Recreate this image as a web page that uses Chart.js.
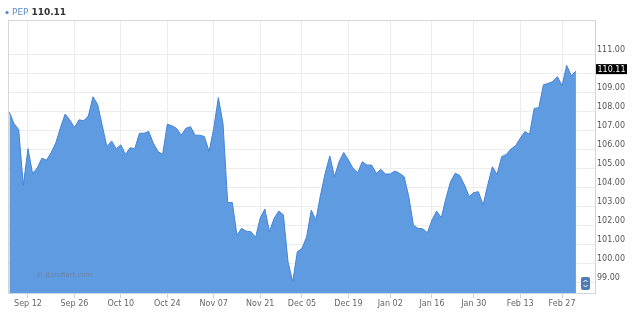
<!DOCTYPE html>
<html>
<head>
<meta charset="utf-8">
<script src="https://cdn.jsdelivr.net/npm/chart.js@4"></script>
<style>
  html, body { margin: 0; padding: 0; background: #fff; }
  #wrap { width: 642px; height: 320px; position: relative; }
</style>
</head>
<body>
<div id="wrap"><canvas id="pepChart"></canvas></div>
<script>
"use strict";

// PEP daily closes, Sep 06 2016 .. Mar 02 2017 (one per trading day)
const closes = [
  107.95, 107.35, 107.04, 104.11, 106.03, 104.72, 105.02, 105.53, 105.43, 105.83,
  106.34, 107.14, 107.85, 107.55, 107.14, 107.55, 107.50, 107.75, 108.76, 108.36,
  107.24, 106.13, 106.44, 106.03, 106.23, 105.73, 106.08, 106.03, 106.84, 106.84,
  106.94, 106.32, 105.88, 105.73, 107.32, 107.24, 107.10, 106.74, 107.10, 107.19,
  106.74, 106.74, 106.67, 105.88, 107.10, 108.72, 107.35, 103.20, 103.20, 101.49,
  101.84, 101.69, 101.67, 101.36, 102.37, 102.86, 101.67, 102.37, 102.75, 102.55,
  100.07, 99.03, 100.61, 100.78, 101.39, 102.80, 102.28, 103.60, 104.74, 105.65,
  104.56, 105.35, 105.83, 105.44, 105.00, 104.77, 105.35, 105.17, 105.17, 104.74,
  104.94, 104.70, 104.70, 104.86, 104.74, 104.56, 103.51, 102.01, 101.84, 101.82,
  101.61, 102.28, 102.75, 102.40, 103.42, 104.30, 104.74, 104.61, 104.12, 103.51,
  103.72, 103.77, 103.07, 104.12, 105.08, 104.68, 105.61, 105.73, 106.01, 106.19,
  106.58, 106.93, 106.79, 108.15, 108.19, 109.39, 109.46, 109.56, 109.82, 109.35,
  110.41, 109.87, 110.11,
];

// x ticks: trading-day index and label
const tickDays = [4, 14, 24, 34, 44, 54, 63, 73, 82, 91, 100, 110, 119];
const tickLabels = [
  "Sep 12", "Sep 26", "Oct 10", "Oct 24", "Nov 07", "Nov 21", "Dec 05",
  "Dec 19", "Jan 02", "Jan 16", "Jan 30", "Feb 13", "Feb 27",
];
const priceTicks = [99, 100, 101, 102, 103, 104, 105, 106, 107, 108, 109, 110, 111];
const symbol = "PEP";
const lastClose = 110.11;

const FONT = "DejaVu Sans";

const overlay = {
  id: "overlay",
  afterDraw(chart) {
    const { ctx, chartArea: a } = chart;
    const y = chart.scales.y;
    ctx.save();

    // frame top / left
    ctx.strokeStyle = "#d6d6d6";
    ctx.lineWidth = 1;
    ctx.beginPath();
    ctx.moveTo(a.left + 0.5, a.bottom);
    ctx.lineTo(a.left + 0.5, a.top + 0.5);
    ctx.lineTo(a.right, a.top + 0.5);
    ctx.stroke();

    // legend
    ctx.fillStyle = "#4a86d4";
    ctx.beginPath();
    ctx.arc(7, 12.5, 1.6, 0, Math.PI * 2);
    ctx.fill();
    ctx.textBaseline = "middle";
    ctx.font = "9px " + FONT;
    ctx.fillStyle = "#5b8dcc";
    ctx.fillText(symbol, 12, 12.5);
    const w = ctx.measureText(symbol + " ").width;
    ctx.font = "bold 9px " + FONT;
    ctx.fillStyle = "#333";
    ctx.fillText(lastClose.toFixed(2), 12 + w, 12.5);

    // last price box
    const py = y.getPixelForValue(lastClose) - 2;
    ctx.fillStyle = "#000";
    ctx.fillRect(a.right + 1, py - 5, 31, 10);
    ctx.fillStyle = "#fff";
    ctx.font = "8px " + FONT;
    ctx.textAlign = "center";
    ctx.fillText(lastClose.toFixed(2), a.right + 16.5, py + 0.5);
    ctx.textAlign = "left";

    // watermark
    ctx.font = "7px " + FONT;
    ctx.fillStyle = "#7085a6";
    ctx.fillText("\u00a9 Barchart.com", 36, 275);

    // scroll button
    const bx = 581, by = 277, bw = 9, bh = 13;
    ctx.fillStyle = "#4f7db3";
    ctx.beginPath();
    ctx.roundRect(bx, by, bw, bh, 2);
    ctx.fill();
    ctx.strokeStyle = "#fff";
    ctx.lineWidth = 1;
    ctx.beginPath();
    ctx.moveTo(bx + 2.5, by + 5);
    ctx.lineTo(bx + 4.5, by + 3);
    ctx.lineTo(bx + 6.5, by + 5);
    ctx.moveTo(bx + 2.5, by + 8);
    ctx.lineTo(bx + 4.5, by + 10);
    ctx.lineTo(bx + 6.5, by + 8);
    ctx.stroke();

    ctx.restore();
  },
};

new Chart(document.getElementById("pepChart"), {
  type: "line",
  data: {
    datasets: [
      {
        data: closes.map((v, i) => ({ x: i, y: v })),
        borderColor: "#4784d3",
        backgroundColor: "#5f9be1",
        borderWidth: 1,
        fill: "start",
        pointRadius: 0,
        tension: 0,
      },
    ],
  },
  options: {
    responsive: true,
    maintainAspectRatio: false,
    animation: false,
    devicePixelRatio: 1,
    layout: { padding: { left: 8, top: 20, right: 0, bottom: 0 } },
    plugins: {
      legend: { display: false },
      tooltip: { enabled: false },
    },
    scales: {
      x: {
        type: "linear",
        min: -0.3,
        max: 126.1,
        afterBuildTicks(scale) {
          scale.ticks = tickDays.map((v) => ({ value: v }));
        },
        afterFit(scale) {
          scale.height = 27;
        },
        grid: { color: "#ececec", tickLength: 5, tickColor: "#d0d0d0" },
        border: { color: "#c9d6e6" },
        ticks: {
          autoSkip: false,
          maxRotation: 0,
          padding: 1,
          color: "#666",
          font: { family: FONT, size: 8 },
          callback: (v, i) => tickLabels[i],
        },
      },
      y: {
        position: "right",
        min: 98.44,
        max: 112.8,
        afterBuildTicks(scale) {
          scale.ticks = priceTicks.map((v) => ({ value: v }));
        },
        afterFit(scale) {
          scale.width = 47;
        },
        grid: { color: "#ececec", drawTicks: false },
        border: { color: "#d4d4d4" },
        ticks: {
          padding: 2,
          labelOffset: -4,
          color: "#555",
          font: { family: FONT, size: 8 },
          callback: (v) => Number(v).toFixed(2),
        },
      },
    },
  },
  plugins: [overlay],
});
</script>
</body>
</html>
